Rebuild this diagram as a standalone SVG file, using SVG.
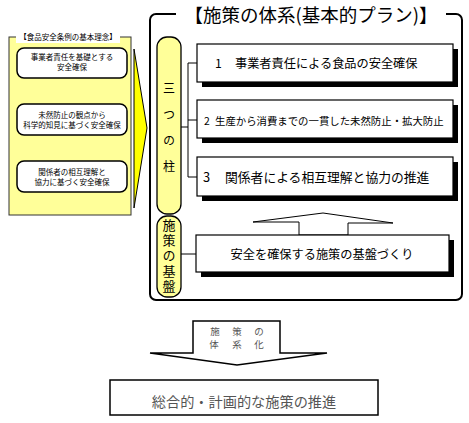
<svg xmlns="http://www.w3.org/2000/svg" width="469" height="423" viewBox="0 0 469 423">
<style>
text{font-family:"Noto Sans CJK JP","Noto Sans",sans-serif;fill:#000}
.lbox{fill:#fff;stroke:#000;stroke-width:1.5}
.box{fill:#fff;stroke:#000;stroke-width:1.2}
.sh{fill:#000}
.pil{fill:#ffff99;stroke:#000;stroke-width:1.3}
.ln{fill:none;stroke:#000;stroke-width:1}
.sm{font-size:7.5px;text-anchor:middle}
.gr{fill:#555}
.vt{writing-mode:vertical-rl;text-orientation:upright}
</style>
<rect width="469" height="423" fill="#fff"/>
<g id="left-panel">
<rect x="9" y="37" width="122" height="178" fill="#ffff99" stroke="#333" stroke-width="1"/>
<rect x="16" y="31" width="104" height="12" fill="#fff"/>
<text x="68" y="40" class="sm">【食品安全条例の基本理念】</text>
</g>
<g id="principle1">
<rect class="lbox" x="17" y="48" width="110" height="30" rx="7"/>
<text x="72" y="60" class="sm">事業者責任を基礎とする</text>
<text x="72" y="70" class="sm">安全確保</text>
</g>
<g id="principle2">
<rect class="lbox" x="17" y="104" width="110" height="31" rx="7"/>
<text x="72" y="118" class="sm">未然防止の観点から</text>
<text x="72" y="128" class="sm">科学的知見に基づく安全確保</text>
</g>
<g id="principle3">
<rect class="lbox" x="17" y="161" width="110" height="31" rx="7"/>
<text x="72" y="175" class="sm">関係者の相互理解と</text>
<text x="72" y="185" class="sm">協力に基づく安全確保</text>
</g>
<g id="yellow-arrow">
<polygon points="134,49 147,128 134,208" fill="#ffff00" stroke="#000" stroke-width="1"/>
</g>
<g id="frame">
<rect x="150" y="14" width="312" height="286" rx="6" fill="#fff" stroke="#000" stroke-width="2"/>
<rect x="176" y="4" width="270" height="22" fill="#fff"/>
<text x="311" y="22" font-size="18.5" text-anchor="middle">【施策の体系(基本的プラン)】</text>
</g>
<g id="connectors">
<path class="ln" d="M181,127 H188 M188,63 V177 M188,63 H197 M188,120 H197 M188,177 H197 M181,254 H196"/>
<polygon points="299,235 299,222 253,222 323,213 393,223 348,223 348,235" fill="#fff" stroke="#000" stroke-width="1"/>
</g>
<g id="pillar-mittsu">
<rect class="pil" x="157" y="37" width="24" height="177" rx="10"/>
<text class="vt" x="169" y="82" font-size="12" letter-spacing="14">三つの柱</text>
</g>
<g id="pillar-kiban">
<rect class="pil" x="157" y="216" width="24" height="81" rx="10"/>
<text class="vt" x="169" y="218.5" font-size="13" letter-spacing="2.2">施策の基盤</text>
</g>
<g id="box1">
<rect class="sh" x="202" y="49" width="256" height="38"/>
<rect class="box" x="197" y="44" width="256" height="38"/>
<text y="68" font-size="12.2"><tspan x="215">1</tspan><tspan x="235">事業者責任による食品の安全確保</tspan></text>
</g>
<g id="box2">
<rect class="sh" x="202" y="105" width="256" height="38"/>
<rect class="box" x="197" y="100" width="256" height="38"/>
<text y="125" font-size="10.4"><tspan x="204">2</tspan><tspan x="215">生産から消費までの一貫した未然防止・拡大防止</tspan></text>
</g>
<g id="box3">
<rect class="sh" x="202" y="162" width="256" height="39"/>
<rect class="box" x="197" y="157" width="256" height="39"/>
<text y="182" font-size="12.8"><tspan x="203">3</tspan><tspan x="225">関係者による相互理解と協力の推進</tspan></text>
</g>
<g id="box4">
<rect class="sh" x="201" y="240" width="253" height="37"/>
<rect class="box" x="196" y="235" width="253" height="37"/>
<text x="322" y="259" font-size="12.2" text-anchor="middle">安全を確保する施策の基盤づくり</text>
</g>
<g id="down-arrow">
<polygon points="193,321 280,321 280,353 327,353 237,365 150,353 193,353" fill="#fff" stroke="#000" stroke-width="1.5"/>
<text x="215 237 259" y="335" font-size="9.5" text-anchor="middle" class="gr">施策の</text>
<text x="214 237 259" y="348" font-size="9.5" text-anchor="middle" class="gr">体系化</text>
</g>
<g id="result">
<rect x="110" y="380" width="268" height="35" fill="#fff" stroke="#000" stroke-width="1.5"/>
<text x="244" y="407" font-size="14.2" text-anchor="middle" class="gr">総合的・計画的な施策の推進</text>
</g>
</svg>
